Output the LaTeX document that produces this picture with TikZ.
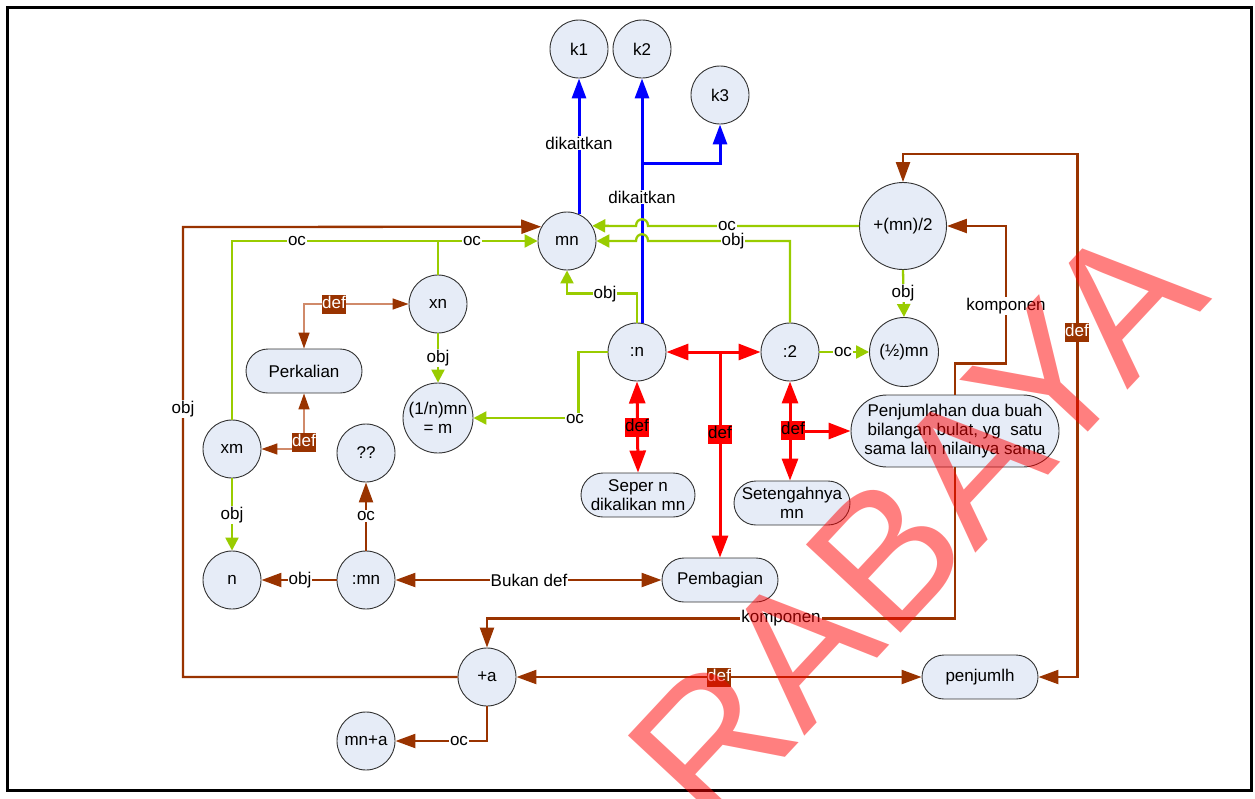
\documentclass[tikz,border=0pt]{standalone}
\usepackage{fontspec}
\setmainfont{Liberation Sans}
\usetikzlibrary{arrows.meta}
\definecolor{nfill}{HTML}{E6ECF7}
\definecolor{lgreen}{HTML}{99CC00}
\definecolor{brn}{HTML}{993300}
\definecolor{lbrn}{HTML}{D08A6A}
\definecolor{bblue}{HTML}{0000FF}
\definecolor{ncol}{HTML}{333333}
\newcommand{\fs}{\fontsize{17}{19}\selectfont}
\tikzset{
  Tb/.tip={Triangle[length=20pt,width=14pt]},
  Tg/.tip={Triangle[length=13pt,width=13pt]},
  Ts/.tip={Triangle[length=16pt,width=11pt,color=brn]},
  Tr/.tip={Triangle[length=22pt,width=16pt]},
}
\begin{document}
\begin{tikzpicture}[x=1pt,y=-1pt,
  cnode/.style={circle,draw=ncol,line width=0.9pt,fill=nfill,minimum size=#1,inner sep=0pt,font=\fs,align=center},
  cnode/.default=58pt,
  rnode/.style={rectangle,rounded corners=22pt,draw=ncol,line width=0.9pt,fill=nfill,minimum width=116pt,minimum height=44pt,inner sep=0pt,font=\fs,align=center},
  gline/.style={draw=lgreen,line width=2.3pt},
  bline/.style={draw=bblue,line width=3pt},
  brline/.style={draw=brn,line width=2.3pt},
  lbline/.style={draw=lbrn,line width=1.5pt},
  rline/.style={draw=red,line width=3pt},
  lbl/.style={fill=white,inner sep=1pt,font=\fs},
  defb/.style={fill=brn,text=white,inner xsep=0.5pt,inner ysep=2pt,text height=12pt,text depth=3pt,font=\fs},
  defr/.style={fill=red,text=black,inner xsep=0.5pt,inner ysep=2pt,text height=12pt,text depth=3pt,font=\fs},
]
\useasboundingbox (0,0) rectangle (1255,798);
\draw[line width=3pt] (7.5,7.5) rectangle (1251.5,790.5);

% nodes
\node[cnode] (k1) at (579,49) {k1};
\node[cnode] (k2) at (642,49) {k2};
\node[cnode] (k3) at (720,95) {k3};
\node[cnode] (mn) at (567,241) {mn};
\node[cnode] (xn) at (438,304) {xn};
\node[cnode=70pt] (onem) at (438,418) {(1/n)mn\\= m};
\node[rnode] (perk) at (304,371) {Perkalian};
\node[cnode] (xm) at (232,449) {xm};
\node[cnode] (qq) at (366,453) {??};
\node[cnode] (n) at (232,580) {n};
\node[cnode] (cmn) at (366,580) {:mn};
\node[cnode] (cn) at (637,352) {:n};
\node[cnode] (c2) at (790,352) {:2};
\node[cnode=87pt] (pmn2) at (903,226) {+(mn)/2};
\node[cnode=69pt] (half) at (904,352) {(½)mn};
\node[rnode,rounded corners=36pt,minimum width=208pt,minimum height=72pt] (penj) at (955,431) {Penjumlahan dua buah\\bilangan bulat, yg~ satu\\sama lain nilainya sama};
\node[rnode,minimum width=114pt] (seper) at (638,495) {Seper n\\dikalikan mn};
\node[rnode] (seteng) at (792,503) {Setengahnya\\mn};
\node[rnode] (pemb) at (720,580) {Pembagian};
\node[cnode] (pa) at (487,677) {+a};
\node[cnode] (mna) at (366,741) {mn+a};
\node[rnode] (pjh) at (980,677) {penjumlh};

% blue connectors
\draw[bline,-Tb] (k1.south |- mn.65) -- (k1.south);
\draw[bline,-Tb] (k2.south |- cn.80) -- (k2.south);
\coordinate (b3) at (642,163);
\draw[bline,-Tb] (b3) -| (k3.south);
\node[lbl] at (579,143) {dikaitkan};
\node[lbl] at (642,197) {dikaitkan};

% green connectors
\draw[gline,-Tg] (pmn2.west) -- (648,226) .. controls (648,217) and (636,217) .. (636,226) -- (mn.31);
\draw[gline,-Tg] (c2.north) -- (790,241) -- (648,241) .. controls (648,232) and (636,232) .. (636,241) -- (mn.east);
\draw[gline,-Tg] (cn.north) -- ++(0,-29) -| (mn.south);
\draw[gline,-Tg] (xm.north) |- (mn.west);
\draw[gline] (xn.north) -- (xn.north |- mn.west);
\draw[gline,-Tg] (xn.south) -- (onem.north);
\draw[gline,-Tg] (cn.west) -- ++(-29,0) |- (onem.east);
\draw[gline,-Tg] (xm.south) -- (n.north);
\draw[gline,-Tg] (c2.east) -- (half.west);
\draw[gline,-Tg] (pmn2.south) -- (half.north);
\node[lbl] at (727,226) {oc};
\node[lbl] at (733,241) {obj};
\node[lbl] at (605,294) {obj};
\node[lbl] at (297,241) {oc};
\node[lbl] at (472,241) {oc};
\node[lbl] at (438,358) {obj};
\node[lbl] at (575,419) {oc};
\node[lbl] at (232,515) {obj};
\node[lbl] at (843,352) {oc};
\node[lbl] at (903,293) {obj};

% brown connectors
\coordinate (lb) at (183,227);
\draw[brline,-Tb] (pa.west) -| (lb) -- (mn.151);
\draw[lbline,Ts-Ts] (perk.north) |- (xn.west);
\draw[lbline,Ts-Ts] (perk.south) |- (xm.east);
\draw[brline,-Tb] (cmn.north) -- (qq.south);
\draw[brline,-Tb] (cmn.west) -- (n.east);
\draw[brline,Tb-Tb] (cmn.east) -- (pemb.west);
\draw[brline,-Tb] (penj.south) -- ++(0,151) -| (pa.north);
\draw[brline,-Tb] (penj.north) -- ++(0,-31) -- ++(51,0) |- (pmn2.east);
\draw[brline,Tb-Tb] (pjh.east) -- ++(39,0) -- ++(0,-523) -| (pmn2.north);
\draw[brline,Tb-Tb] (pa.east) -- (pjh.west);
\draw[brline,-Tb] (pa.south) |- (mna.east);
\node[lbl] at (183,409) {obj};
\node[defb] at (334,304) {def};
\node[defb] at (304,442) {def};
\node[lbl] at (366,516) {oc};
\node[lbl] at (300,580) {obj};
\node[lbl] at (529,580) {Bukan def};
\node[lbl] at (781,618) {komponen};
\node[lbl] at (1006,306) {komponen};
\node[defb] at (1077,332) {def};
\node[defb] at (719,677) {def};
\node[lbl] at (459,741) {oc};

% red connectors
\draw[rline,Tr-Tr] (cn.east) -- (c2.west);
\coordinate (rb) at (pemb.north |- cn.east);
\draw[rline,-Tr] (rb) -- (pemb.north);
\draw[rline,Tr-Tr] (cn.south) -- (seper.north);
\draw[rline,Tr-Tr] (c2.south) -- (c2.south |- seteng.north);
\draw[rline,-Tr] (c2.south |- penj.west) -- (penj.west);
\node[defr] at (720,434) {def};
\node[defr] at (637,427) {def};
\node[defr] at (793,430) {def};

% watermark
\begin{scope}
\clip (0,0) rectangle (1255,798);
\node[rotate=47,anchor=base west,text=red,text opacity=0.5,inner sep=0pt,font=\fontsize{188}{188}\selectfont] (wm) at (712,836) {RABAYA};
\end{scope}
\end{tikzpicture}
\end{document}
